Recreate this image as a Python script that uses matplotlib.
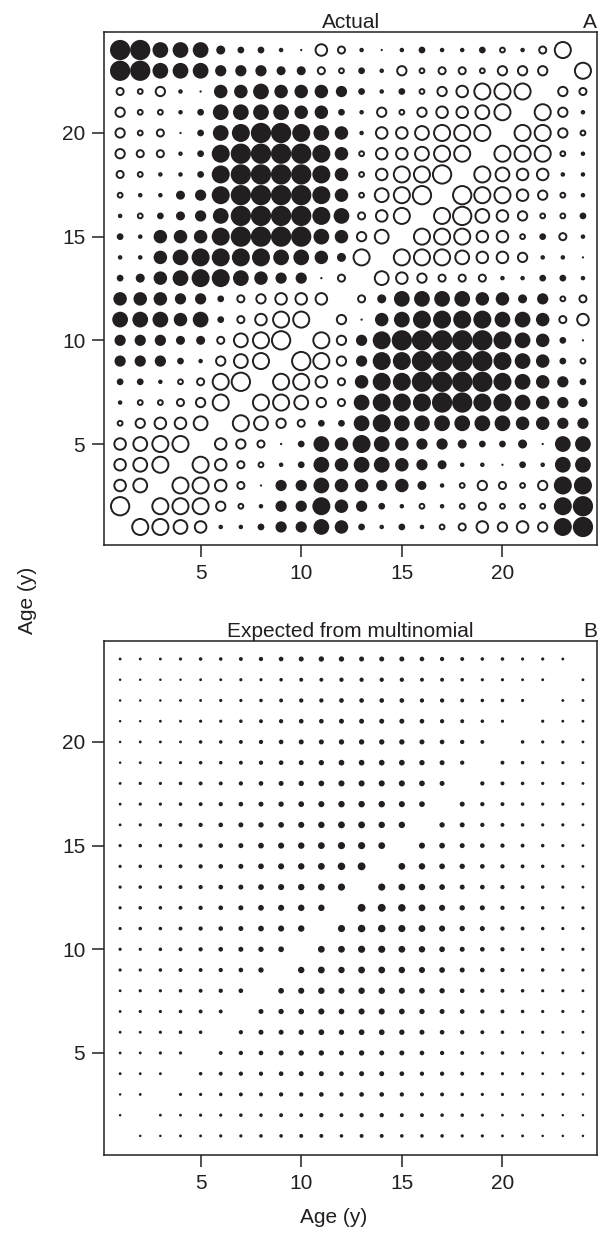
import numpy as np
import matplotlib
matplotlib.use('Agg')
import matplotlib.pyplot as plt

plt.rcParams['font.family'] = ['Liberation Sans', 'DejaVu Sans']

ink = '#231f20'
ages = np.arange(1, 25)

# residual matrix, rows from age 24 (top) down to age 1; >0 filled, <0 open, 0 = diagonal
actual = [
    [9, 9, 7, 7, 7, 4, 3, 3, -2, 1, -6, -4, -2, 1, -2, 3, 2, 2, 3, -3, -2, -4, -8, 0],
    [9, 9, 7, 7, 7, 5, 5, 5, 4, 4, -4, -3, 3, -2, -5, -3, -4, -4, -3, -5, -5, -5, 0, -8],
    [-4, -3, -5, -2, 1, 6, 6, 7, 6, 6, 6, 5, 3, -2, 3, -3, -5, -6, -8, -8, -8, 0, -5, -4],
    [-5, -3, -3, 2, 3, 7, 7, 7, 7, 6, 6, 3, -2, -5, -3, -5, -6, -6, -7, -8, 0, -8, -5, -2],
    [-5, -3, -4, 1, 3, 7, 8, 9, 9, 8, 7, 6, -2, -6, -6, -7, -8, -8, -8, 0, -8, -8, -5, -3],
    [-5, -4, -4, -2, 3, 8, 9, 9, 9, 9, 8, 6, -3, -6, -6, -7, -8, -8, 0, -8, -8, -8, -3, 2],
    [-4, -3, -2, 2, 3, 8, 9, 9, 9, 9, 8, 6, -3, -6, -8, -8, -9, 0, -8, -7, -6, -6, -2, 2],
    [-3, -2, 2, 4, 5, 8, 9, 9, 9, 9, 8, 6, -3, -7, -8, -9, 0, -9, -8, -8, -6, -5, -3, 2],
    [-2, -3, 3, 4, 5, 7, 9, 9, 9, 9, 8, 7, -4, -6, -8, 0, -8, -9, -7, -6, -5, -3, -3, 3],
    [3, 2, 6, 6, 6, 8, 9, 9, 9, 9, 7, 6, -5, -7, 0, -8, -8, -8, -6, -6, -3, 3, -4, -2],
    [-2, 2, 6, 7, 8, 8, 8, 8, 7, 7, 6, 4, -8, 0, -8, -8, -8, -7, -6, -6, -5, -2, -2, 1],
    [3, 4, 6, 7, 8, 8, 7, 6, 5, 5, 1, -4, 0, -7, -6, -5, -4, -4, -4, -2, -2, 3, 3, -2],
    [6, 6, 6, 5, 5, 3, -4, -5, -6, -6, -6, 0, -4, 4, 7, 7, 7, 7, 6, 6, 4, 5, -3, -4],
    [7, 7, 7, 6, 7, 3, -4, -6, -8, -8, 0, -5, 1, 6, 7, 8, 8, 8, 8, 7, 7, 6, -4, -6],
    [5, 5, 5, 4, 4, -4, -7, -8, -9, 0, -8, -5, 5, 8, 9, 9, 9, 9, 9, 8, 7, 6, 3, 1],
    [5, 5, 5, 3, 2, -5, -7, -8, 0, -9, -8, -5, 5, 8, 8, 9, 9, 9, 9, 8, 7, 6, 3, -3],
    [3, 3, 2, -3, -4, -8, -9, 0, -8, -8, -6, -4, 6, 8, 8, 9, 9, 9, 9, 8, 7, 6, 5, 3],
    [2, -3, -3, -4, -5, -8, 0, -8, -8, -7, -5, -4, 7, 8, 8, 8, 9, 9, 8, 8, 7, 6, 5, 4],
    [-3, -5, -6, -6, -7, 0, -8, -7, -5, -4, 3, 3, 7, 8, 7, 7, 7, 7, 7, 7, 6, 6, 5, 5],
    [-6, -7, -8, -8, 0, -6, -5, -4, 1, 3, 7, 6, 8, 7, 6, 5, 5, 4, 3, 3, 4, 1, 7, 7],
    [-6, -7, -8, 0, -8, -6, -4, -3, 2, 3, 7, 6, 7, 7, 6, 5, 4, 2, -2, 1, 3, -2, 7, 7],
    [-6, -7, 0, -8, -8, -6, -4, 1, 5, 5, 7, 6, 6, 5, 6, 4, 2, -3, -5, -4, -3, -5, 8, 8],
    [-9, 0, -8, -8, -8, -5, -3, 2, 5, 5, 8, 6, 5, 3, 2, -3, -2, -3, -4, -3, -3, -3, 8, 9],
    [0, -8, -8, -7, -6, -2, 2, 3, 5, 5, 7, 6, 3, -2, 3, -2, -3, -4, -6, -5, -6, -5, 8, 9],
]

# expected counts (arbitrary units), same row order
expected = [
    [8, 8, 8, 9, 10, 10, 11, 12, 13, 14, 15, 15, 14, 14, 14, 13, 12, 11, 10, 10, 9, 9, 8, 0],
    [7, 7, 7, 7, 8, 8, 9, 9, 10, 11, 11, 12, 12, 12, 12, 11, 11, 10, 9, 9, 8, 8, 0, 8],
    [7, 7, 7, 8, 8, 9, 9, 10, 11, 12, 12, 13, 13, 13, 13, 12, 12, 11, 10, 10, 9, 0, 8, 8],
    [7, 7, 8, 8, 9, 9, 10, 11, 12, 13, 13, 14, 14, 14, 14, 13, 12, 11, 10, 9, 0, 9, 8, 8],
    [7, 8, 8, 8, 10, 10, 11, 12, 13, 14, 14, 15, 15, 15, 15, 14, 13, 12, 11, 0, 10, 9, 9, 8],
    [7, 8, 8, 9, 10, 10, 11, 12, 13, 14, 15, 16, 16, 16, 16, 15, 14, 12, 0, 11, 10, 9, 9, 8],
    [8, 9, 9, 10, 11, 11, 12, 13, 14, 15, 16, 17, 17, 17, 17, 16, 14, 0, 12, 11, 10, 9, 9, 8],
    [8, 9, 9, 10, 11, 12, 13, 14, 15, 16, 17, 18, 18, 18, 17, 16, 0, 14, 12, 11, 10, 9, 9, 8],
    [8, 9, 10, 11, 12, 13, 14, 15, 16, 17, 18, 19, 19, 18, 18, 0, 15, 14, 12, 11, 10, 9, 9, 8],
    [9, 10, 10, 11, 12, 13, 14, 16, 17, 18, 19, 20, 20, 19, 0, 17, 16, 14, 13, 12, 11, 10, 9, 8],
    [9, 10, 10, 11, 12, 13, 14, 16, 17, 18, 19, 21, 22, 0, 19, 18, 16, 15, 13, 12, 11, 10, 9, 8],
    [9, 10, 10, 11, 12, 13, 14, 16, 17, 18, 19, 20, 0, 20, 19, 18, 16, 14, 13, 12, 11, 10, 9, 8],
    [9, 10, 10, 11, 12, 13, 14, 16, 17, 18, 18, 0, 22, 22, 21, 19, 17, 15, 14, 12, 11, 10, 9, 9],
    [9, 10, 10, 11, 12, 13, 14, 16, 17, 18, 0, 20, 21, 21, 20, 19, 17, 15, 14, 12, 11, 10, 9, 9],
    [9, 9, 10, 11, 12, 13, 14, 15, 16, 0, 19, 19, 20, 20, 19, 18, 16, 14, 13, 12, 10, 10, 9, 9],
    [9, 9, 10, 11, 11, 12, 13, 15, 0, 18, 19, 18, 19, 19, 18, 17, 16, 14, 13, 12, 10, 10, 9, 9],
    [8, 9, 9, 10, 11, 12, 13, 0, 16, 17, 18, 17, 18, 18, 17, 16, 15, 13, 12, 11, 10, 9, 9, 8],
    [8, 9, 9, 10, 11, 11, 0, 14, 15, 16, 17, 16, 17, 17, 16, 15, 14, 13, 12, 11, 10, 9, 9, 8],
    [8, 8, 9, 10, 10, 0, 12, 14, 14, 15, 16, 15, 16, 16, 15, 14, 13, 12, 11, 10, 9, 9, 8, 8],
    [8, 8, 9, 9, 0, 11, 12, 13, 14, 15, 15, 14, 15, 14, 14, 13, 12, 11, 10, 10, 9, 8, 8, 8],
    [8, 8, 8, 0, 10, 11, 12, 12, 13, 14, 14, 13, 14, 14, 13, 12, 12, 11, 10, 9, 9, 8, 8, 8],
    [7, 8, 0, 9, 9, 10, 11, 11, 12, 12, 13, 12, 13, 13, 12, 11, 11, 10, 9, 9, 8, 8, 8, 7],
    [7, 0, 8, 8, 9, 9, 10, 10, 11, 11, 12, 11, 12, 12, 11, 11, 10, 10, 9, 8, 8, 8, 7, 7],
    [0, 7, 7, 8, 8, 9, 9, 10, 10, 11, 11, 10, 11, 11, 10, 10, 10, 9, 9, 8, 8, 7, 7, 7],
]

px = 72 / 100.0  # points per pixel at dpi 100
ring_lw = 1.4
fs = 15


def grid(mat):
    m = np.array(mat, dtype=float)[::-1]  # row 0 -> age 1
    X, Y = np.meshgrid(ages, ages)
    return X.ravel(), Y.ravel(), m.ravel()


def style(ax, ylo):
    ax.set_xlim(0.2, 24.7)
    ax.set_ylim(ylo, 24.87)
    ax.set_xticks([5, 10, 15, 20])
    ax.set_yticks([5, 10, 15, 20])
    ax.tick_params(direction='out', length=8.5, width=1.1, pad=5,
                   labelsize=fs, colors=ink)
    for s in ax.spines.values():
        s.set_linewidth(1.1)
        s.set_color(ink)


fig = plt.figure(figsize=(6.03, 12.35), dpi=100)
axA = fig.add_axes([0.1725, 0.5587, 0.8176, 0.4154])
axB = fig.add_axes([0.1725, 0.0648, 0.8176, 0.4162])

# panel A
x, y, v = grid(actual)
d = 2.25 * np.abs(v) * px  # diameter in points
pos = v > 0
neg = v < 0
axA.scatter(x[pos], y[pos], s=d[pos] ** 2, c=ink, linewidths=0)
axA.scatter(x[neg], y[neg], s=np.clip(d[neg] - ring_lw, 0.5, None) ** 2,
            facecolors='none', edgecolors=ink, linewidths=ring_lw)
style(axA, 0.13)
axA.set_title('Actual', fontsize=fs, pad=3, color=ink)
axA.set_title('A', loc='right', fontsize=fs, pad=3, color=ink)

# panel B
x, y, v = grid(expected)
d = v / 2.8 * px
m = v > 0
axB.scatter(x[m], y[m], s=d[m] ** 2, c=ink, linewidths=0)
style(axB, 0.08)
axB.set_title('Expected from multinomial', fontsize=fs, pad=3, color=ink)
axB.set_title('B', loc='right', fontsize=fs, pad=3, color=ink)

fig.text(0.045, 0.514, 'Age (y)', rotation=90, ha='center', va='center',
         fontsize=fs, color=ink)
fig.text(0.554, 0.014, 'Age (y)', ha='center', va='center',
         fontsize=fs, color=ink)

fig.savefig('out.png', dpi=100)
